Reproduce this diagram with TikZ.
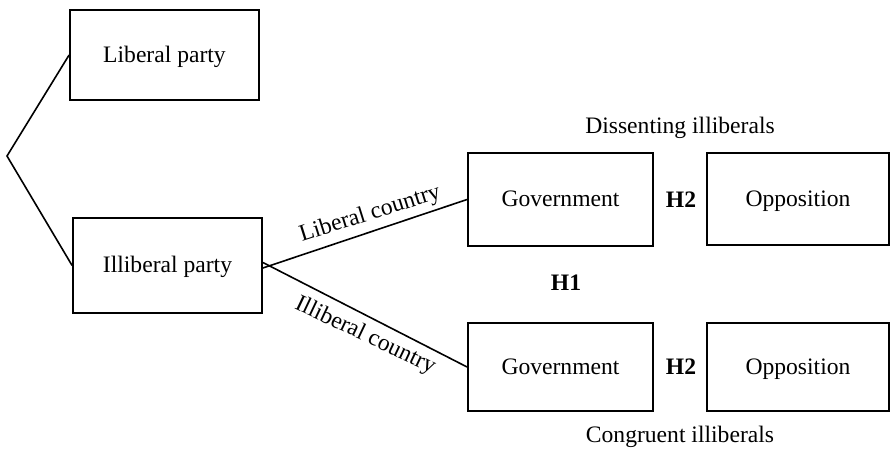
\documentclass[tikz,border=0pt]{standalone}
\usepackage{fontspec}
\setmainfont{Liberation Serif}
\tikzset{
  box/.style={draw, line width=0.9pt, inner sep=0pt, text height=9pt, text depth=2pt,
    font=\fontsize{11.8}{14}\selectfont},
  link/.style={line width=0.8pt},
  lbl/.style={inner sep=1.5pt, font=\fontsize{11.8}{14}\selectfont},
  hyp/.style={inner sep=0pt, font=\fontsize{11.8}{14}\selectfont\bfseries}
}

\begin{document}
\begin{tikzpicture}[x=0.5pt,y=0.5pt,yscale=-1,xscale=1]
\useasboundingbox (0,0) rectangle (891,452);

%Shape: Rectangle [Liberal party]
\node [box, minimum width=94.5pt, minimum height=45pt] (lib) at (164.5,55) {Liberal party};
%Shape: Rectangle [Illiberal party]
\node [box, minimum width=94.5pt, minimum height=47.5pt] (illib) at (167.5,265.5) {Illiberal party};
%Shape: Rectangle [Government, top]
\node [box, minimum width=92.5pt, minimum height=46.5pt] (govtop) at (560.5,199.5) {Government};
%Shape: Rectangle [Opposition, top]
\node [box, minimum width=91pt, minimum height=46pt] (opptop) at (798,199) {Opposition};
%Shape: Rectangle [Government, bottom]
\node [box, minimum width=92.5pt, minimum height=44pt] (govbot) at (560.5,367) {Government};
%Shape: Rectangle [Opposition, bottom]
\node [box, minimum width=91pt, minimum height=44pt] (oppbot) at (798,367) {Opposition};

%Straight Lines [root]
\coordinate (root) at (7,156);
\draw [link] (lib.west) -- (root) -- (illib.west);
%Straight Lines [countries]
\draw [link] ([yshift=1.25pt]illib.east) -- (govtop.west)
  node [lbl, pos=0.55, anchor=south, rotate=17.5, inner sep=2.6pt] {Liberal country};
\draw [link] ([yshift=-1.5pt]illib.east) -- (govbot.west)
  node [lbl, pos=0.54, anchor=north, rotate=-25.4, inner sep=3.6pt] {Illiberal country};

% Text Node
\node [hyp] (h2top) at (681,200) {H2};
% Text Node
\node [hyp] (h2bot) at (681,367) {H2};
% Text Node
\node [hyp] (h1) at (566,283) {H1};
% Text Node
\node [lbl] (dis) at (680,128) {Dissenting illiberals};
% Text Node
\node [lbl] (con) at (680,437) {Congruent illiberals};

\end{tikzpicture}
\end{document}
